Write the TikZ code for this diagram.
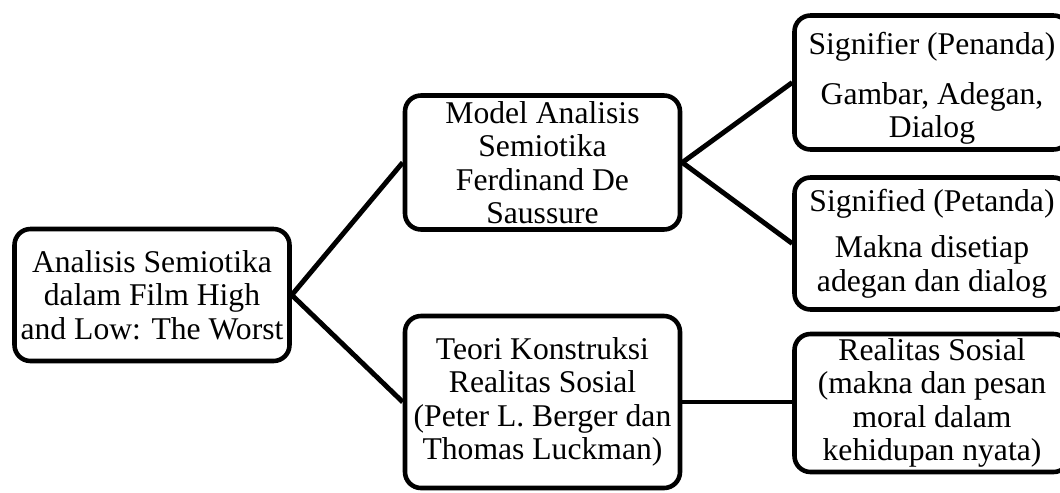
\documentclass[tikz,border=0pt]{standalone}
\usepackage{fontspec}
\setmainfont{Liberation Serif}
\usepackage{tikz}
\usetikzlibrary{positioning,calc}
\tikzset{
  conceptbox/.style={
    rectangle, rounded corners=0.32cm, draw=black, fill=white,
    line width=2.6pt, minimum width=5.5cm, minimum height=#1,
    font=\fontsize{18}{19}\selectfont, align=center,
    inner sep=2pt
  },
  conceptbox/.default=2.66cm,
  linkline/.style={line width=2.8pt, draw=black},
}

\begin{document}
\begin{tikzpicture}
  \useasboundingbox (-3.04,-3.94) rectangle (18.16,5.9);
  \clip (-3.04,-3.94) rectangle (18.16,5.9);
  \node[conceptbox=2.64cm] (root) at (0,0) {Analisis Semiotika\\dalam Film High\\and Low: The Worst};
  \node[conceptbox=2.68cm] at ([xshift=7.81cm, yshift=2.65cm]root.center) (model) {Model Analisis\\Semiotika\\Ferdinand De\\Saussure};
  \node[conceptbox=3.44cm] at ([xshift=7.81cm, yshift=-2.14cm]root.center) (teori) {Teori Konstruksi\\Realitas Sosial\\(Peter L. Berger dan\\Thomas Luckman)};
  \node[conceptbox=2.68cm] at ([xshift=15.6cm, yshift=4.25cm]root.center) (signifier) {\rule{0pt}{0.68cm}Signifier (Penanda)\\[0.34cm]Gambar, Adegan,\\Dialog};
  \node[conceptbox=2.64cm] at ([xshift=15.6cm, yshift=1.03cm]root.center) (signified) {Signified (Petanda)\\[0.26cm]Makna disetiap\\adegan dan dialog};
  \node[conceptbox=2.76cm] at ([xshift=15.6cm, yshift=-2.16cm]root.center) (realitas) {Realitas Sosial\\(makna dan pesan\\moral dalam\\kehidupan nyata)};
  \draw[linkline] (root.east) -- (model.west);
  \draw[linkline] (root.east) -- (teori.west);
  \draw[linkline] (model.east) -- (signifier.west);
  \draw[linkline] (model.east) -- (signified.west);
  \draw[linkline] (teori.east) -- (teori.east -| realitas.west);
\end{tikzpicture}
\end{document}
